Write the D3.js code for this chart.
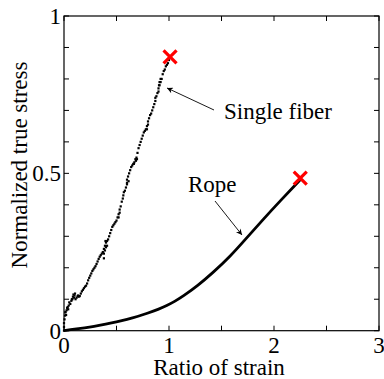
<!DOCTYPE html>
<html><head><meta charset="utf-8">
<script src="https://cdn.jsdelivr.net/npm/d3@7"></script>
<style>
html,body{margin:0;padding:0;background:#fff;}
</style></head>
<body><svg id="c" width="384" height="379"></svg>
<script>
const xTicks = [0, 1, 2, 3];
const xMinor = [0.5, 1.5, 2.5];
const yTickLabels = [0, 0.5, 1];
const yMinor = [0.1, 0.2, 0.3, 0.4, 0.6, 0.7, 0.8, 0.9];

const ropeX = [0, 0.1, 0.2, 0.28, 0.4, 0.5, 0.6, 0.7, 0.79, 0.9, 0.98, 1.05, 1.14, 1.27, 1.42, 1.58, 1.74, 1.9, 2.06, 2.22, 2.25];
const ropeY = [0, 0.005, 0.009, 0.013, 0.021, 0.028, 0.036, 0.045, 0.055, 0.068, 0.08, 0.092, 0.111, 0.142, 0.185, 0.235, 0.295, 0.355, 0.413, 0.469, 0.48];

const fiberX = [0,0,0,0.005,0.01,0.012,0.02,0.025,0.03,0.04,0.045,0.05,0.06,0.07,0.08,0.085,0.09,0.1,0.11,0.12,0.13,0.14,0.15,0.16,0.17,0.18,0.19,0.2,0.21,0.22,0.23,0.24,0.25,0.26,0.27,0.28,0.29,0.3,0.31,0.32,0.33,0.34,0.35,0.36,0.37,0.38,0.38,0.38,0.39,0.4,0.4,0.41,0.42,0.43,0.44,0.45,0.46,0.47,0.48,0.49,0.5,0.51,0.52,0.53,0.54,0.55,0.56,0.565,0.57,0.58,0.59,0.6,0.6,0.61,0.62,0.63,0.64,0.65,0.66,0.67,0.68,0.69,0.7,0.71,0.72,0.73,0.74,0.75,0.76,0.77,0.78,0.79,0.8,0.81,0.82,0.83,0.84,0.85,0.86,0.87,0.88,0.89,0.9,0.905,0.91,0.92,0.93,0.94,0.95,0.96,0.97,0.98,0.99,1.0,
  0.015,0.035,0.075,0.095,0.105,0.135,0.39,0.41,0.395,0.52,0.53,0.6,0.615,0.665,0.685,0.695,0.79,0.8,0.87,0.9,0.91,0.92];
const fiberY = [0,0.012,0.024,0.036,0.048,0.058,0.05,0.065,0.072,0.068,0.08,0.09,0.085,0.095,0.1,0.108,0.115,0.112,0.1,0.105,0.11,0.108,0.11,0.118,0.125,0.13,0.135,0.14,0.143,0.15,0.16,0.168,0.175,0.182,0.19,0.195,0.2,0.205,0.212,0.22,0.228,0.235,0.24,0.245,0.25,0.23,0.245,0.26,0.27,0.265,0.28,0.285,0.29,0.3,0.31,0.32,0.33,0.335,0.34,0.345,0.35,0.36,0.37,0.385,0.395,0.41,0.42,0.43,0.44,0.445,0.455,0.465,0.48,0.49,0.5,0.51,0.52,0.525,0.53,0.535,0.545,0.55,0.565,0.58,0.59,0.6,0.61,0.62,0.63,0.635,0.64,0.65,0.665,0.675,0.685,0.69,0.7,0.71,0.72,0.73,0.745,0.755,0.77,0.78,0.79,0.79,0.8,0.815,0.825,0.83,0.84,0.845,0.85,0.86,
  0.06,0.075,0.1,0.105,0.118,0.112,0.255,0.27,0.285,0.36,0.375,0.47,0.475,0.53,0.54,0.545,0.64,0.655,0.74,0.76,0.78,0.8];

const failX = [1.01, 2.25];
const failY = [0.87, 0.485];

const FONT = "'Times New Roman', Times, Tinos, serif";
const FS = 23;
const svg = d3.select("#c");
const L = 64, R = 379, T = 16, B = 330.7;
const x = d3.scaleLinear().domain([0, 3]).range([L, R]);
const y = d3.scaleLinear().domain([0, 1]).range([B, T]);

// frame
svg.append("rect").attr("x", L).attr("y", T).attr("width", R - L).attr("height", B - T)
  .attr("fill", "none").attr("stroke", "#000").attr("stroke-width", 1.2);

// ticks (inward, mirrored)
const xAll = xTicks.concat(xMinor), yAll = yTickLabels.concat(yMinor);
const tk = svg.append("g").attr("stroke", "#000").attr("stroke-width", 1);
xAll.forEach(v => {
  tk.append("line").attr("x1", x(v)).attr("x2", x(v)).attr("y1", B).attr("y2", B - 5);
  tk.append("line").attr("x1", x(v)).attr("x2", x(v)).attr("y1", T).attr("y2", T + 5);
});
yAll.forEach(v => {
  tk.append("line").attr("y1", y(v)).attr("y2", y(v)).attr("x1", L).attr("x2", L + 5);
  tk.append("line").attr("y1", y(v)).attr("y2", y(v)).attr("x1", R).attr("x2", R - 5);
});

function txt(sel) { return sel.style("font-family", FONT).attr("font-size", FS).attr("fill", "#000"); }

// tick labels
txt(svg.selectAll(".xl").data(xTicks).enter().append("text"))
  .attr("x", d => x(d)).attr("y", 353).attr("text-anchor", "middle").text(d => d);
txt(svg.selectAll(".yl").data(yTickLabels).enter().append("text"))
  .attr("x", 61).attr("y", d => y(d) + 8).attr("text-anchor", "end").text(d => d);

// axis titles
txt(svg.append("text")).attr("x", 219).attr("y", 375).attr("text-anchor", "middle").text("Ratio of strain");
txt(svg.append("text")).attr("transform", "translate(27,165) rotate(-90)")
  .attr("text-anchor", "middle").text("Normalized true stress");

// rope line
const ropeData = ropeX.map((d, i) => [d, ropeY[i]]);
svg.append("path").datum(ropeData)
  .attr("d", d3.line().x(d => x(d[0])).y(d => y(d[1])).curve(d3.curveBasis))
  .attr("fill", "none").attr("stroke", "#000").attr("stroke-width", 2.8);

// single fiber dots
const fiberData = fiberX.map((d, i) => [d, fiberY[i]]);
svg.selectAll(".fd").data(fiberData).enter().append("rect")
  .attr("x", d => x(d[0]) - 1.1).attr("y", d => y(d[1]) - 1.1)
  .attr("width", 2.2).attr("height", 2.2).attr("fill", "#000");

// failure markers
const failData = failX.map((d, i) => [d, failY[i]]);
failData.forEach(d => {
  const cx = x(d[0]), cy = y(d[1]), s = 6.5;
  svg.append("path").attr("d", `M${cx - s},${cy - s}L${cx + s},${cy + s}M${cx - s},${cy + s}L${cx + s},${cy - s}`)
    .attr("stroke", "#f00").attr("stroke-width", 3.2).attr("fill", "none");
});

// annotations
const defs = svg.append("defs");
defs.append("marker").attr("id", "ah").attr("viewBox", "0 0 10 10").attr("refX", 10).attr("refY", 5)
  .attr("markerWidth", 8).attr("markerHeight", 6).attr("orient", "auto").attr("markerUnits", "userSpaceOnUse")
  .append("path").attr("d", "M0,0L10,5L0,10L3,5Z").attr("fill", "#000");

svg.append("line").attr("x1", 214).attr("y1", 110).attr("x2", 167).attr("y2", 88)
  .attr("stroke", "#000").attr("stroke-width", 0.9).attr("marker-end", "url(#ah)");
txt(svg.append("text")).attr("x", 224).attr("y", 119).text("Single fiber");

svg.append("line").attr("x1", 215).attr("y1", 201).attr("x2", 242).attr("y2", 235)
  .attr("stroke", "#000").attr("stroke-width", 0.9).attr("marker-end", "url(#ah)");
txt(svg.append("text")).attr("x", 188).attr("y", 192).text("Rope");
</script></body></html>
